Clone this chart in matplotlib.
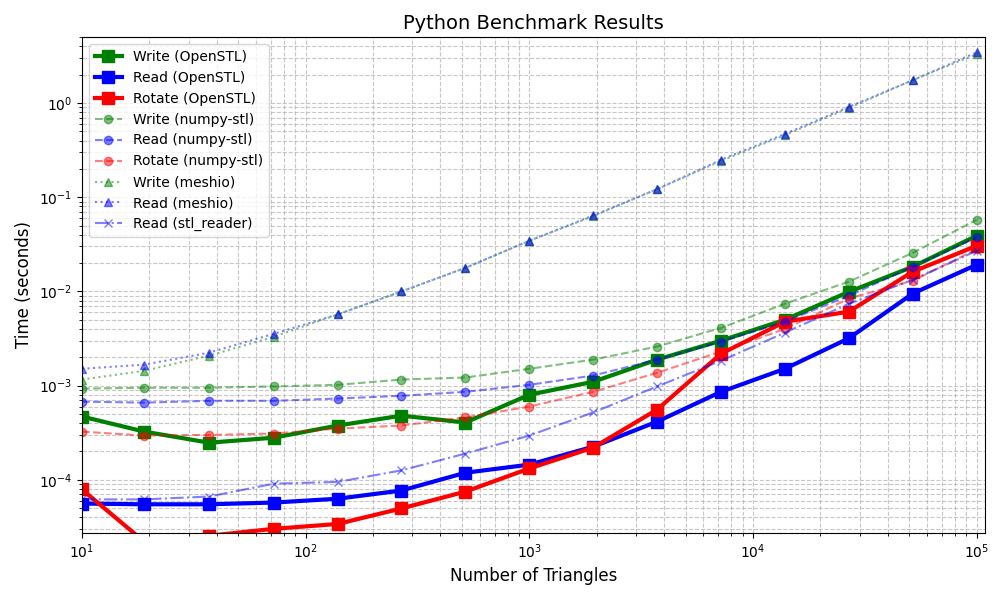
import matplotlib
matplotlib.use("Agg")
import matplotlib.pyplot as plt

# number of triangles
sizes = [10, 19, 37, 72, 139, 268, 518, 1000, 1931, 3728, 7197, 13895, 26827, 51795, 100000]

# OpenSTL
write_openstl = [4.7e-4, 3.25e-4, 2.48e-4, 2.8e-4, 3.77e-4, 4.8e-4, 4.06e-4, 8.0e-4, 1.1e-3,
                 1.89e-3, 3.0e-3, 5.0e-3, 9.9e-3, 1.83e-2, 3.9e-2]
read_openstl = [5.6e-5, 5.5e-5, 5.5e-5, 5.74e-5, 6.3e-5, 7.7e-5, 1.19e-4, 1.45e-4, 2.25e-4,
                4.15e-4, 8.6e-4, 1.51e-3, 3.18e-3, 9.5e-3, 1.92e-2]
rotate_openstl = [7.9e-5, 2.2e-5, 2.55e-5, 3.02e-5, 3.4e-5, 4.97e-5, 7.5e-5, 1.32e-4, 2.2e-4,
                  5.57e-4, 2.18e-3, 4.77e-3, 6.1e-3, 1.62e-2, 3.05e-2]

# numpy-stl
write_numpystl = [9.3e-4, 9.5e-4, 9.5e-4, 9.8e-4, 1.02e-3, 1.16e-3, 1.22e-3, 1.51e-3, 1.89e-3,
                  2.6e-3, 4.1e-3, 7.4e-3, 1.27e-2, 2.57e-2, 5.75e-2]
read_numpystl = [6.76e-4, 6.6e-4, 6.9e-4, 6.9e-4, 7.3e-4, 7.8e-4, 8.6e-4, 1.02e-3, 1.28e-3,
                 1.89e-3, 2.93e-3, 4.77e-3, 9.0e-3, 1.83e-2, 3.75e-2]
rotate_numpystl = [3.25e-4, 2.95e-4, 3.0e-4, 3.1e-4, 3.5e-4, 3.77e-4, 4.6e-4, 6.0e-4, 8.6e-4,
                   1.37e-3, 2.3e-3, 4.0e-3, 8.4e-3, 1.3e-2, 2.8e-2]

# meshio
write_meshio = [1.16e-3, 1.44e-3, 2.08e-3, 3.3e-3, 5.7e-3, 1.0e-2, 1.78e-2, 3.45e-2, 6.3e-2,
                0.122, 0.243, 0.457, 0.885, 1.75, 3.3]
read_meshio = [1.51e-3, 1.67e-3, 2.24e-3, 3.55e-3, 5.7e-3, 1.0e-2, 1.78e-2, 3.45e-2, 6.4e-2,
               0.122, 0.25, 0.47, 0.91, 1.75, 3.45]

# stl_reader
read_stlreader = [6.2e-5, 6.2e-5, 6.65e-5, 9.1e-5, 9.5e-5, 1.26e-4, 1.9e-4, 2.95e-4, 5.2e-4,
                  9.8e-4, 1.84e-3, 3.65e-3, 7.4e-3, 1.33e-2, 2.7e-2]

fig, ax = plt.subplots(figsize=(10, 6), dpi=100)

ax.plot(sizes, write_openstl, 's-', color='green', lw=3, ms=8, label='Write (OpenSTL)')
ax.plot(sizes, read_openstl, 's-', color='blue', lw=3, ms=8, label='Read (OpenSTL)')
ax.plot(sizes, rotate_openstl, 's-', color='red', lw=3, ms=8, label='Rotate (OpenSTL)')

ax.plot(sizes, write_numpystl, 'o--', color='green', alpha=0.5, label='Write (numpy-stl)')
ax.plot(sizes, read_numpystl, 'o--', color='blue', alpha=0.5, label='Read (numpy-stl)')
ax.plot(sizes, rotate_numpystl, 'o--', color='red', alpha=0.5, label='Rotate (numpy-stl)')

ax.plot(sizes, write_meshio, '^:', color='green', alpha=0.5, label='Write (meshio)')
ax.plot(sizes, read_meshio, '^:', color='blue', alpha=0.5, label='Read (meshio)')

ax.plot(sizes, read_stlreader, 'x-.', color='blue', alpha=0.5, label='Read (stl_reader)')

ax.set_xscale('log')
ax.set_yscale('log')
ax.set_xlim(10, 1.09e5)
ax.set_ylim(2.74e-5, 5.0)
ax.set_xlabel('Number of Triangles', fontsize=12)
ax.set_ylabel('Time (seconds)', fontsize=12)
ax.set_title('Python Benchmark Results', fontsize=14)
ax.grid(True, which='both', ls='--', alpha=0.7)
ax.legend(loc='upper left')

fig.subplots_adjust(left=0.082, right=0.985, top=0.938, bottom=0.112)
plt.savefig('out.png')
